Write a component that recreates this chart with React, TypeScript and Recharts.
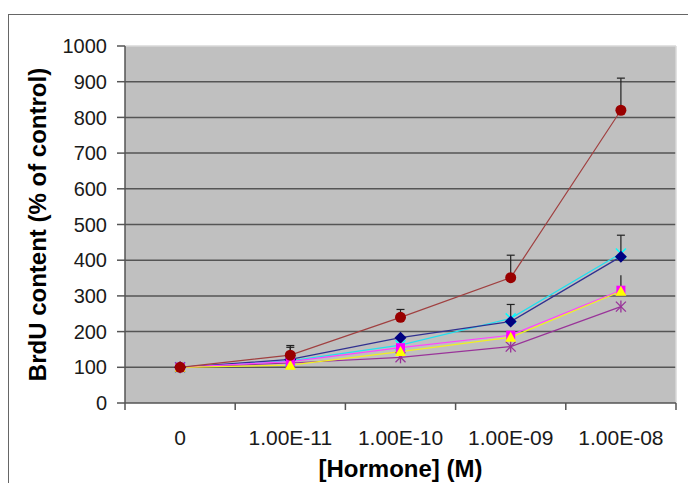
import React from 'react'
import {
  LineChart,
  Line,
  XAxis,
  YAxis,
  CartesianGrid,
  ErrorBar,
  ReferenceLine,
} from 'recharts'

const categories = ['0', '1.00E-11', '1.00E-10', '1.00E-09', '1.00E-08']
const edgeTicks = [-0.5, 0.5, 1.5, 2.5, 3.5, 4.5]
const yTicks = [0, 100, 200, 300, 400, 500, 600, 700, 800, 900, 1000]
const gridValues = [100, 200, 300, 400, 500, 600, 700, 800, 900]

const brown = [100, 134, 240, 351, 820]
const brownErr = [null, 27, 22, 63, 90]
const navy = [100, 122, 183, 228, 410]
const navyErr = [null, 34, null, 48, 60]
const cyan = [100, 118, 162, 237, 419]
const magenta = [100, 116, 155, 190, 316]
const yellow = [100, 106, 144, 184, 313]
const yellowErr = [null, null, null, null, 45]
const purple = [100, 112, 128, 158, 270]

const up = (e: number | null) => (e == null ? null : [0, e])

const data = categories.map((c, i) => ({
  idx: i,
  label: c,
  brown: brown[i],
  brownErr: up(brownErr[i]),
  navy: navy[i],
  navyErr: up(navyErr[i]),
  cyan: cyan[i],
  magenta: magenta[i],
  yellow: yellow[i],
  yellowErr: up(yellowErr[i]),
  purple: purple[i],
}))

const FONT = '"Liberation Sans", Arial, sans-serif'

// marker shapes, roughly like the old Excel defaults
const circleDot = (p: any) => (
  <circle key={p.index} cx={p.cx} cy={p.cy} r={5.5} fill="#990000" />
)
const diamondDot = (p: any) => {
  const h = 6
  return (
    <polygon
      key={p.index}
      points={`${p.cx},${p.cy - h} ${p.cx + h},${p.cy} ${p.cx},${p.cy + h} ${p.cx - h},${p.cy}`}
      fill="#000080"
    />
  )
}
const squareDot = (p: any) => (
  <rect key={p.index} x={p.cx - 4.5} y={p.cy - 4.5} width={9} height={9} fill="#ff00ff" />
)
const triangleDot = (p: any) => {
  const h = 5.5
  return (
    <polygon
      key={p.index}
      points={`${p.cx},${p.cy - h} ${p.cx + h},${p.cy + h - 1} ${p.cx - h},${p.cy + h - 1}`}
      fill="#ffff00"
    />
  )
}
const xDot = (p: any) => {
  const h = 5
  return (
    <g key={p.index} stroke="#00ffff" strokeWidth={1.5}>
      <line x1={p.cx - h} y1={p.cy - h} x2={p.cx + h} y2={p.cy + h} />
      <line x1={p.cx - h} y1={p.cy + h} x2={p.cx + h} y2={p.cy - h} />
    </g>
  )
}
const starDot = (p: any) => {
  const h = 5
  return (
    <g key={p.index} stroke="#993399" strokeWidth={1.3}>
      <line x1={p.cx - h} y1={p.cy - h} x2={p.cx + h} y2={p.cy + h} />
      <line x1={p.cx - h} y1={p.cy + h} x2={p.cx + h} y2={p.cy - h} />
      <line x1={p.cx} y1={p.cy - h - 1} x2={p.cx} y2={p.cy + h + 1} />
    </g>
  )
}

// ticks sit on the category edges, labels in the middle of each band
const XTick = (props: any) => {
  const { x, y, index, width } = props
  if (index >= categories.length) return <g />
  const half = (width || 551) / categories.length / 2
  return (
    <text
      x={x + half}
      y={y}
      dy="0.71em"
      textAnchor="middle"
      fontSize={21}
      fontFamily={FONT}
      fill="#1a1a1a"
    >
      {categories[index]}
    </text>
  )
}

export default function App() {
  return (
    <div style={{ paddingTop: 6, height: 469, overflow: 'hidden' }}>
      <div
        style={{
          width: 679,
          height: 490,
          border: '1px solid #666',
          background: '#fff',
        }}
      >
        <LineChart
          width={679}
          height={480}
          data={data}
          margin={{ top: 31, right: 12, left: 0, bottom: 0 }}
          style={{ fontFamily: FONT }}
        >
          <CartesianGrid
            vertical={false}
            horizontalValues={gridValues}
            fill="#c0c0c0"
            fillOpacity={1}
            stroke="#555"
            strokeWidth={1.5}
          />
          <XAxis
            dataKey="idx"
            type="number"
            domain={[-0.5, 4.5]}
            ticks={edgeTicks}
            interval={0}
            tick={<XTick />}
            tickSize={7}
            tickMargin={20}
            tickLine={{ stroke: '#555', strokeWidth: 1.5 }}
            axisLine={{ stroke: '#555', strokeWidth: 1.5 }}
            height={92}
            label={{
              value: '[Hormone] (M)',
              position: 'insideBottom',
              offset: 18,
              style: { fontSize: 24, fontWeight: 'bold', fill: '#000', fontFamily: FONT },
            }}
          />
          <YAxis
            type="number"
            domain={[0, 1000]}
            ticks={yTicks}
            interval={0}
            width={116}
            tickSize={8}
            tickMargin={10}
            tick={{ fontSize: 20, fill: '#1a1a1a', fontFamily: FONT }}
            tickLine={{ stroke: '#555', strokeWidth: 1.5 }}
            axisLine={{ stroke: '#555', strokeWidth: 1.5 }}
            label={{
              value: 'BrdU content (% of control)',
              angle: -90,
              position: 'insideLeft',
              offset: 28,
              style: {
                textAnchor: 'middle',
                fontSize: 24,
                fontWeight: 'bold',
                fill: '#000',
                fontFamily: FONT,
              },
            }}
          />
          <ReferenceLine y={1000} stroke="#d9d9d9" strokeWidth={1.5} />
          <ReferenceLine x={4.5} stroke="#d9d9d9" strokeWidth={1.5} />

          <Line dataKey="cyan" stroke="#22e0f0" strokeWidth={1.2} dot={xDot} isAnimationActive={false} />
          <Line dataKey="navy" stroke="#303090" strokeWidth={1.2} dot={diamondDot} isAnimationActive={false}>
            <ErrorBar dataKey="navyErr" direction="y" width={4} stroke="#222" strokeWidth={1.2} />
          </Line>
          <Line dataKey="purple" stroke="#993399" strokeWidth={1.2} dot={starDot} isAnimationActive={false} />
          <Line dataKey="magenta" stroke="#ff44ff" strokeWidth={1.2} dot={squareDot} isAnimationActive={false} />
          <Line dataKey="yellow" stroke="#f0f020" strokeWidth={1.2} dot={triangleDot} isAnimationActive={false}>
            <ErrorBar dataKey="yellowErr" direction="y" width={0} stroke="#222" strokeWidth={1.2} />
          </Line>
          <Line dataKey="brown" stroke="#a04040" strokeWidth={1.2} dot={circleDot} isAnimationActive={false}>
            <ErrorBar dataKey="brownErr" direction="y" width={4} stroke="#222" strokeWidth={1.2} />
          </Line>
        </LineChart>
      </div>
    </div>
  )
}
